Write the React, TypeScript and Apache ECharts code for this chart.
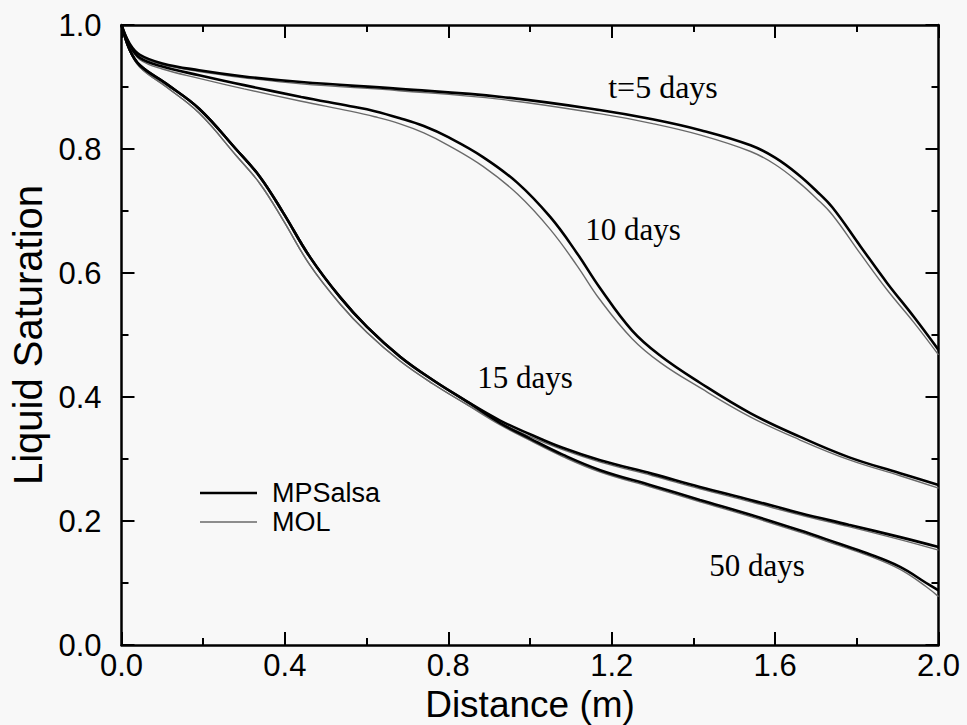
import React, { useEffect, useRef } from "react";
import * as echarts from "echarts";

// ---- data ----
const xTicks = { min: 0, max: 2, interval: 0.4 };
const yTicks = { min: 0, max: 1, interval: 0.2 };

const t5X = [0, 0.02, 0.045, 0.1, 0.19, 0.3, 0.44, 0.68, 0.93, 1.17, 1.3, 1.42, 1.54, 1.6, 1.66, 1.7, 1.74, 1.81, 1.874, 1.94, 2.0];
const t5Mps = [1.0, 0.97, 0.952, 0.938, 0.927, 0.917, 0.908, 0.897, 0.884, 0.863, 0.848, 0.83, 0.806, 0.786, 0.757, 0.733, 0.706, 0.642, 0.584, 0.529, 0.476];
const t5Mol = [1.0, 0.968, 0.95, 0.936, 0.925, 0.915, 0.905, 0.894, 0.88, 0.857, 0.841, 0.822, 0.796, 0.775, 0.745, 0.721, 0.694, 0.63, 0.573, 0.52, 0.468];

const t10X = [0, 0.02, 0.045, 0.1, 0.19, 0.3, 0.44, 0.56, 0.62, 0.68, 0.74, 0.8, 0.885, 0.97, 1.05, 1.115, 1.17, 1.25, 1.32, 1.416, 1.539, 1.66, 1.78, 1.906, 2.0];
const t10Mps = [1.0, 0.968, 0.947, 0.933, 0.919, 0.903, 0.884, 0.869, 0.861, 0.85, 0.837, 0.819, 0.787, 0.745, 0.69, 0.632, 0.577, 0.507, 0.466, 0.423, 0.374, 0.336, 0.303, 0.277, 0.258];
const t10Mol = [1.0, 0.966, 0.944, 0.929, 0.914, 0.897, 0.877, 0.861, 0.852, 0.841, 0.826, 0.806, 0.772, 0.727, 0.67, 0.612, 0.558, 0.494, 0.455, 0.415, 0.368, 0.331, 0.299, 0.273, 0.253];

const t15X = [0, 0.02, 0.045, 0.11, 0.19, 0.28, 0.339, 0.396, 0.461, 0.535, 0.601, 0.682, 0.763, 0.845, 0.927, 1.0, 1.08, 1.172, 1.3, 1.416, 1.54, 1.66, 1.78, 1.906, 2.0];
const t15Mps = [1.0, 0.96, 0.935, 0.905, 0.865, 0.8, 0.755, 0.697, 0.626, 0.561, 0.513, 0.465, 0.427, 0.393, 0.362, 0.34, 0.318, 0.298, 0.276, 0.255, 0.234, 0.213, 0.194, 0.174, 0.158];
const t15Mol = [1.0, 0.958, 0.932, 0.9, 0.858, 0.79, 0.744, 0.685, 0.613, 0.55, 0.504, 0.458, 0.421, 0.388, 0.358, 0.336, 0.315, 0.295, 0.273, 0.252, 0.231, 0.21, 0.191, 0.17, 0.153];

const t50X = [0, 0.02, 0.045, 0.11, 0.19, 0.28, 0.339, 0.396, 0.461, 0.535, 0.601, 0.682, 0.763, 0.845, 0.927, 1.0, 1.08, 1.172, 1.3, 1.416, 1.54, 1.66, 1.75, 1.825, 1.906, 1.97, 2.0];
const t50Mps = [1.0, 0.96, 0.935, 0.905, 0.865, 0.8, 0.755, 0.697, 0.626, 0.561, 0.513, 0.465, 0.427, 0.393, 0.358, 0.333, 0.307, 0.282, 0.257, 0.234, 0.21, 0.185, 0.165, 0.148, 0.126, 0.1, 0.088];
const t50Mol = [1.0, 0.958, 0.932, 0.9, 0.858, 0.79, 0.744, 0.685, 0.613, 0.55, 0.504, 0.458, 0.421, 0.388, 0.355, 0.33, 0.304, 0.279, 0.254, 0.231, 0.207, 0.182, 0.162, 0.145, 0.122, 0.094, 0.078];

const curveLabels = ["t=5 days", "10 days", "15 days", "50 days"];
const legendNames = ["MPSalsa", "MOL"];

const pairs = (xs: number[], ys: number[]) => xs.map((x, i) => [x, ys[i]]);

const SANS = "'Liberation Sans', Arial, sans-serif";
const SERIF = "'Liberation Serif', 'Times New Roman', serif";

export default function App() {
  const ref = useRef<HTMLDivElement>(null);
  useEffect(() => {
    if (!ref.current) return;
    const chart = echarts.init(ref.current, undefined, { renderer: "svg" });

    const molStyle = { color: "#6a6a6a", width: 1.4 };
    const mpsStyle = { color: "#000", width: 2.6 };
    const mk = (name: string, data: number[][], style: any, z: number) => ({
      type: "line",
      name,
      data,
      symbol: "none",
      smooth: 0.4,
      lineStyle: style,
      itemStyle: { color: style.color },
      z,
    });

    const axisCommon = {
      axisLine: { show: true, onZero: false, lineStyle: { color: "#000", width: 2.5 } },
      axisTick: { show: true, inside: true, length: 13, lineStyle: { color: "#000", width: 2 } },
      minorTick: { show: true, splitNumber: 2, length: 7, lineStyle: { color: "#000", width: 2 } },
      splitLine: { show: false },
      minorSplitLine: { show: false },
    };

    const labelFont = (size: number, fam: string) => `${size}px ${fam}`;

    chart.setOption({
      animation: false,
      backgroundColor: "#f8f8f8",
      grid: { left: 121.5, right: 28.5, top: 25, bottom: 80, containLabel: false, outerBoundsMode: "none" },
      xAxis: [
        {
          type: "value",
          position: "bottom",
          ...xTicks,
          ...axisCommon,
          name: "Distance (m)",
          nameLocation: "middle",
          nameGap: 32,
          nameTextStyle: { fontFamily: SANS, fontSize: 37, color: "#000", lineHeight: 38 },
          axisLabel: {
            margin: 5,
            fontFamily: SANS,
            fontSize: 31,
            color: "#000",
            formatter: (v: number) => v.toFixed(1),
          },
        },
        {
          type: "value",
          position: "top",
          ...xTicks,
          ...axisCommon,
          axisLabel: { show: false },
        },
      ],
      yAxis: [
        {
          type: "value",
          position: "left",
          ...yTicks,
          ...axisCommon,
          name: "Liquid Saturation",
          nameLocation: "middle",
          nameGap: 69,
          nameTextStyle: { fontFamily: SANS, fontSize: 40, color: "#000" },
          axisLabel: {
            margin: 20,
            fontFamily: SANS,
            fontSize: 31,
            color: "#000",
            formatter: (v: number) => v.toFixed(1),
          },
        },
        {
          type: "value",
          position: "right",
          ...yTicks,
          ...axisCommon,
          axisLabel: { show: false },
        },
      ],
      series: [
        mk(legendNames[1], pairs(t5X, t5Mol), molStyle, 2),
        mk(legendNames[1], pairs(t10X, t10Mol), molStyle, 2),
        mk(legendNames[1], pairs(t15X, t15Mol), molStyle, 2),
        mk(legendNames[1], pairs(t50X, t50Mol), molStyle, 2),
        mk(legendNames[0], pairs(t5X, t5Mps), mpsStyle, 3),
        mk(legendNames[0], pairs(t10X, t10Mps), mpsStyle, 3),
        mk(legendNames[0], pairs(t15X, t15Mps), mpsStyle, 3),
        mk(legendNames[0], pairs(t50X, t50Mps), mpsStyle, 3),
      ],
      graphic: [
        { type: "text", x: 663, y: 87, style: { text: curveLabels[0], font: labelFont(32, SERIF), fill: "#000", align: "center", verticalAlign: "middle" } },
        { type: "text", x: 633, y: 229, style: { text: curveLabels[1], font: labelFont(31, SERIF), fill: "#000", align: "center", verticalAlign: "middle" } },
        { type: "text", x: 525, y: 377, style: { text: curveLabels[2], font: labelFont(31, SERIF), fill: "#000", align: "center", verticalAlign: "middle" } },
        { type: "text", x: 757, y: 565, style: { text: curveLabels[3], font: labelFont(31, SERIF), fill: "#000", align: "center", verticalAlign: "middle" } },
        { type: "line", shape: { x1: 200, y1: 493, x2: 257, y2: 493 }, style: { stroke: mpsStyle.color, lineWidth: mpsStyle.width } },
        { type: "line", shape: { x1: 200, y1: 522, x2: 257, y2: 522 }, style: { stroke: molStyle.color, lineWidth: molStyle.width } },
        { type: "text", x: 272, y: 493, style: { text: legendNames[0], font: labelFont(27, SANS), fill: "#000", align: "left", verticalAlign: "middle" } },
        { type: "text", x: 272, y: 522, style: { text: legendNames[1], font: labelFont(27, SANS), fill: "#000", align: "left", verticalAlign: "middle" } },
      ],
    });
    return () => chart.dispose();
  }, []);

  return (
    <div
      ref={ref}
      style={{ position: "absolute", left: 0, top: 0, width: 967, height: 725, background: "#f8f8f8" }}
    />
  );
}
